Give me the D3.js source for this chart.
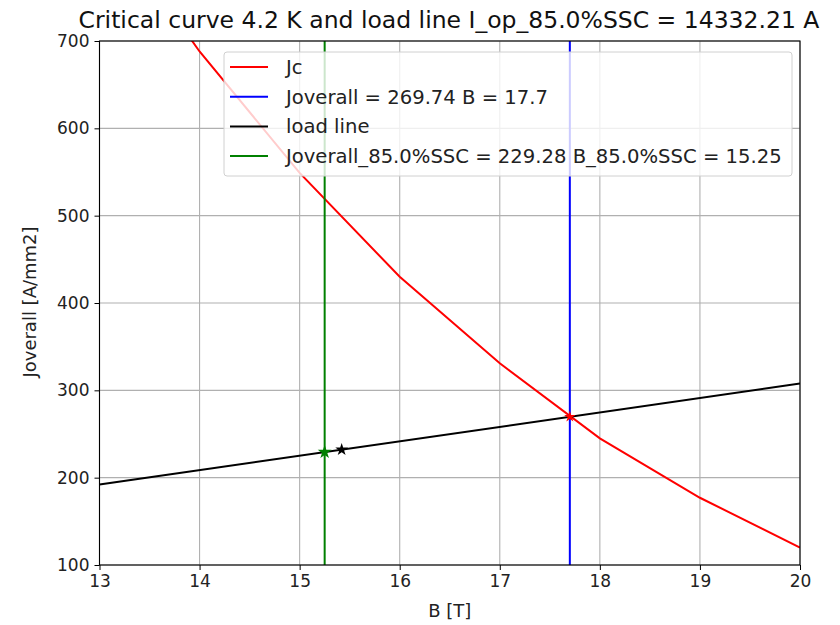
<!DOCTYPE html>
<html>
<head>
<meta charset="utf-8">
<script src="https://cdn.jsdelivr.net/npm/d3@7"></script>
<style>
  html, body { margin: 0; padding: 0; background: #fff; }
  svg { display: block; font-family: "DejaVu Sans", sans-serif; }
</style>
</head>
<body>
<svg id="chart" width="840" height="625"></svg>
<script>
// Critical current curve at 4.2 K (B in T, J in A/mm2)
const jcB = [13, 14, 15, 16, 17, 18, 19, 20];
const jcJ = [850, 688, 549, 430, 331, 245, 177, 120];

// Load line end points
const loadB = [13, 20];
const loadJ = [192.1, 307.7];

// Operating points
const opB = 17.7, opJ = 269.74;
const sscB = 15.25, sscJ = 229.28;
const starB = 15.42, starJ = 232.1;

const xTicks = [13, 14, 15, 16, 17, 18, 19, 20];
const yTicks = [100, 200, 300, 400, 500, 600, 700];

const titleText = "Critical curve 4.2 K and load line I_op_85.0%SSC = 14332.21 A";
const legendLabels = ["Jc", "Joverall = 269.74 B = 17.7", "load line",
                      "Joverall_85.0%SSC = 229.28 B_85.0%SSC = 15.25"];
const legendColors = ["red", "blue", "black", "green"];

const svg = d3.select("#chart");
const m = { left: 99.5, right: 800, top: 41, bottom: 565 };
const tickFont = 17, labelFont = 18, legendFont = 19.6, titleFont = 23.5;

const x = d3.scaleLinear().domain([13, 20]).range([m.left, m.right]);
const y = d3.scaleLinear().domain([100, 700]).range([m.bottom, m.top]);

svg.append("defs").append("clipPath").attr("id", "plotClip")
  .append("rect").attr("x", m.left).attr("y", m.top)
  .attr("width", m.right - m.left).attr("height", m.bottom - m.top);

// Grid
const grid = svg.append("g").attr("stroke", "#b0b0b0").attr("stroke-width", 1.1);
xTicks.forEach(t => grid.append("line")
  .attr("x1", x(t)).attr("x2", x(t)).attr("y1", m.top).attr("y2", m.bottom));
yTicks.forEach(t => grid.append("line")
  .attr("x1", m.left).attr("x2", m.right).attr("y1", y(t)).attr("y2", y(t)));

const plot = svg.append("g").attr("clip-path", "url(#plotClip)");
const line = d3.line().x(d => x(d[0])).y(d => y(d[1]));

// Jc curve
plot.append("path").datum(jcB.map((b, i) => [b, jcJ[i]]))
  .attr("d", line).attr("fill", "none").attr("stroke", "red").attr("stroke-width", 2);

// Vertical line at the critical point
plot.append("line").attr("x1", x(opB)).attr("x2", x(opB)).attr("y1", m.top).attr("y2", m.bottom)
  .attr("stroke", "blue").attr("stroke-width", 2);

// Load line
plot.append("path").datum(loadB.map((b, i) => [b, loadJ[i]]))
  .attr("d", line).attr("fill", "none").attr("stroke", "black").attr("stroke-width", 2);

// Vertical line at the operating point
plot.append("line").attr("x1", x(sscB)).attr("x2", x(sscB)).attr("y1", m.top).attr("y2", m.bottom)
  .attr("stroke", "green").attr("stroke-width", 2);

// Markers
const star = d3.symbol().type(d3.symbolStar);
plot.append("path").attr("d", star.size(40)())
  .attr("transform", `translate(${x(opB)},${y(opJ)})`).attr("fill", "red");
plot.append("path").attr("d", star.size(50)())
  .attr("transform", `translate(${x(starB)},${y(starJ)})`).attr("fill", "black");
plot.append("path").attr("d", star.size(60)())
  .attr("transform", `translate(${x(sscB)},${y(sscJ)})`).attr("fill", "green");

// Axes
const fmt = d3.format("d");
const xAxis = svg.append("g").attr("transform", `translate(0,${m.bottom})`)
  .call(d3.axisBottom(x).tickValues(xTicks).tickFormat(fmt).tickSize(5).tickPadding(5));
const yAxis = svg.append("g").attr("transform", `translate(${m.left},0)`)
  .call(d3.axisLeft(y).tickValues(yTicks).tickFormat(fmt).tickSize(5).tickPadding(5));
[xAxis, yAxis].forEach(a => {
  a.select(".domain").remove();
  a.selectAll("text").attr("font-size", tickFont).attr("fill", "#222")
    .attr("font-family", "DejaVu Sans, sans-serif");
  a.selectAll("line").attr("stroke", "#000").attr("stroke-width", 1);
});

// Frame
svg.append("rect").attr("x", m.left).attr("y", m.top)
  .attr("width", m.right - m.left).attr("height", m.bottom - m.top)
  .attr("fill", "none").attr("stroke", "#000").attr("stroke-width", 1.1);

// Labels
svg.append("text").attr("x", 449).attr("y", 28)
  .attr("text-anchor", "middle").attr("font-size", titleFont).attr("fill", "#111").text(titleText);
svg.append("text").attr("x", (m.left + m.right) / 2).attr("y", 617)
  .attr("text-anchor", "middle").attr("font-size", labelFont).attr("fill", "#222").text("B [T]");
svg.append("text").attr("transform", `translate(36,302) rotate(-90)`)
  .attr("text-anchor", "middle").attr("font-size", labelFont).attr("fill", "#222").text("Joverall [A/mm2]");

// Legend
const lg = svg.append("g");
lg.append("rect").attr("x", 224).attr("y", 52).attr("width", 568).attr("height", 124)
  .attr("rx", 3).attr("fill", "rgba(255,255,255,0.8)").attr("stroke", "#d0d0d0");
legendLabels.forEach((lab, i) => {
  const yy = 67 + i * 29.7;
  lg.append("line").attr("x1", 230).attr("x2", 268).attr("y1", yy).attr("y2", yy)
    .attr("stroke", legendColors[i]).attr("stroke-width", 2);
  lg.append("text").attr("x", 286).attr("y", yy + 7).attr("font-size", legendFont)
    .attr("fill", "#222").text(lab);
});
</script>
</body>
</html>
